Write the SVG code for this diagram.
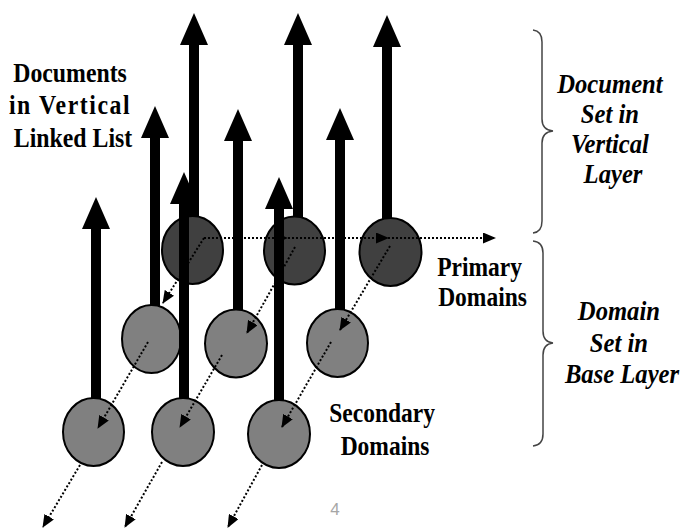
<svg xmlns="http://www.w3.org/2000/svg" width="682" height="529" viewBox="0 0 682 529">
  <style>
    .doc { fill: #000; }
    .pri { fill: #404040; stroke: #000; stroke-width: 2; }
    .sec { fill: #808080; stroke: #000; stroke-width: 2; }
    .link { fill: none; stroke: #000; stroke-width: 2; stroke-dasharray: 2 2; }
    .lbl { font-family: "Liberation Serif", "Times New Roman", serif; font-weight: bold; fill: #000; text-anchor: middle; }
    .it { font-style: italic; }
    .brace { fill: none; stroke: #444; stroke-width: 1.5; }
  </style>
  <defs>
    <marker id="ah" markerUnits="userSpaceOnUse" markerWidth="13" markerHeight="11" refX="12" refY="5.5" orient="auto" viewBox="0 0 13 11">
      <path d="M0,0 L13,5.5 L0,11 z" fill="#000"/>
    </marker>
  </defs>
  <rect width="682" height="529" fill="#fff"/>

  <!-- primary domains (back row) -->
  <g id="primary-1">
    <polygon class="doc" points="194,13 208,45 199,45 199,250 189,250 189,45 180,45"/>
    <ellipse class="pri" cx="192.5" cy="250" rx="30.5" ry="34"/>
  </g>
  <g id="primary-2">
    <polygon class="doc" points="298,13 312,45 303,45 303,250 293,250 293,45 284,45"/>
    <ellipse class="pri" cx="294.5" cy="250.5" rx="30.5" ry="34"/>
  </g>
  <g id="primary-3">
    <polygon class="doc" points="387,15 401,47 392,47 392,252 382,252 382,47 373,47"/>
    <ellipse class="pri" cx="390.5" cy="252" rx="31" ry="34"/>
  </g>

  <!-- middle row -->
  <g id="secondary-m1">
    <polygon class="doc" points="155,106 169,138 160,138 160,339 150,339 150,138 141,138"/>
    <ellipse class="sec" cx="151.5" cy="339" rx="29.5" ry="34"/>
  </g>
  <g id="secondary-m2">
    <polygon class="doc" points="238,109 252,141 243,141 243,343 233,343 233,141 224,141"/>
    <ellipse class="sec" cx="236" cy="343.5" rx="31" ry="34"/>
  </g>
  <g id="secondary-m3">
    <polygon class="doc" points="340,108 354,140 345,140 345,343 335,343 335,140 326,140"/>
    <ellipse class="sec" cx="337.5" cy="343" rx="30.5" ry="34"/>
  </g>

  <!-- front row -->
  <g id="secondary-f1">
    <polygon class="doc" points="96,197 110,229 101,229 101,432 91,432 91,229 82,229"/>
    <ellipse class="sec" cx="93.5" cy="432" rx="30.5" ry="34"/>
  </g>
  <g id="secondary-f2">
    <polygon class="doc" points="184,172 198,204 189,204 189,432 179,432 179,204 170,204"/>
    <ellipse class="sec" cx="183" cy="432" rx="31" ry="34"/>
  </g>
  <g id="secondary-f3">
    <polygon class="doc" points="279,177 293,209 284,209 284,434 274,434 274,209 265,209"/>
    <ellipse class="sec" cx="279" cy="434" rx="31" ry="34"/>
  </g>

  <!-- connectors -->
  <g id="connectors">
    <polyline class="link" points="204,238 287,238 388,238 495,238" marker-mid="url(#ah)" marker-end="url(#ah)"/>
    <line class="link" x1="204" y1="238" x2="163" y2="303" marker-end="url(#ah)"/>
    <line class="link" x1="295" y1="247" x2="247" y2="333" marker-end="url(#ah)"/>
    <line class="link" x1="390" y1="246" x2="340" y2="330" marker-end="url(#ah)"/>
    <line class="link" x1="148" y1="342" x2="98" y2="428" marker-end="url(#ah)"/>
    <line class="link" x1="222" y1="355" x2="180" y2="427" marker-end="url(#ah)"/>
    <line class="link" x1="331" y1="342" x2="282" y2="427" marker-end="url(#ah)"/>
    <line class="link" x1="80" y1="465" x2="43" y2="527" marker-end="url(#ah)"/>
    <line class="link" x1="162" y1="462" x2="125" y2="527" marker-end="url(#ah)"/>
    <line class="link" x1="262" y1="465" x2="228" y2="527" marker-end="url(#ah)"/>
  </g>

  <!-- braces -->
  <path class="brace" d="M533,30 Q542,31 542,42 L542,119 Q542,130 553,131 Q542,132 542,143 L542,221 Q542,232 533,233"/>
  <path class="brace" d="M533,241 Q543,242 543,253 L543,331 Q543,342 553,343 Q543,344 543,355 L543,434 Q543,445 533,446"/>

  <!-- labels -->
  <g transform="translate(73,0) scale(0.85,1)">
    <text class="lbl" font-size="28">
      <tspan x="0" y="82">Documents</tspan>
      <tspan x="0" y="114" textLength="142" lengthAdjust="spacing">in Vertical</tspan>
      <tspan x="0" y="147">Linked List</tspan>
    </text>
  </g>
  <g transform="translate(482.5,0) scale(0.87,1)">
    <text class="lbl" font-size="27">
      <tspan x="0" y="276">Primary</tspan>
      <tspan x="0" y="306">Domains</tspan>
    </text>
  </g>
  <g transform="translate(385,0) scale(0.87,1)">
    <text class="lbl" font-size="27">
      <tspan x="0" y="422">Secondary</tspan>
      <tspan x="0" y="455">Domains</tspan>
    </text>
  </g>
  <g transform="translate(613,0) scale(0.88,1)">
    <text class="lbl it" font-size="28">
      <tspan x="0" y="93">Document</tspan>
      <tspan x="0" y="123">Set in</tspan>
      <tspan x="0" y="153">Vertical</tspan>
      <tspan x="0" y="183">Layer</tspan>
    </text>
  </g>
  <g transform="translate(622,0) scale(0.88,1)">
    <text class="lbl it" font-size="28">
      <tspan x="0" y="320">Domain</tspan>
      <tspan x="0" y="352">Set in</tspan>
      <tspan x="0" y="383">Base Layer</tspan>
    </text>
  </g>
  <text x="335" y="515" font-family="'Liberation Sans', Arial, sans-serif" font-size="17" fill="#a6a6a6" text-anchor="middle">4</text>
</svg>
